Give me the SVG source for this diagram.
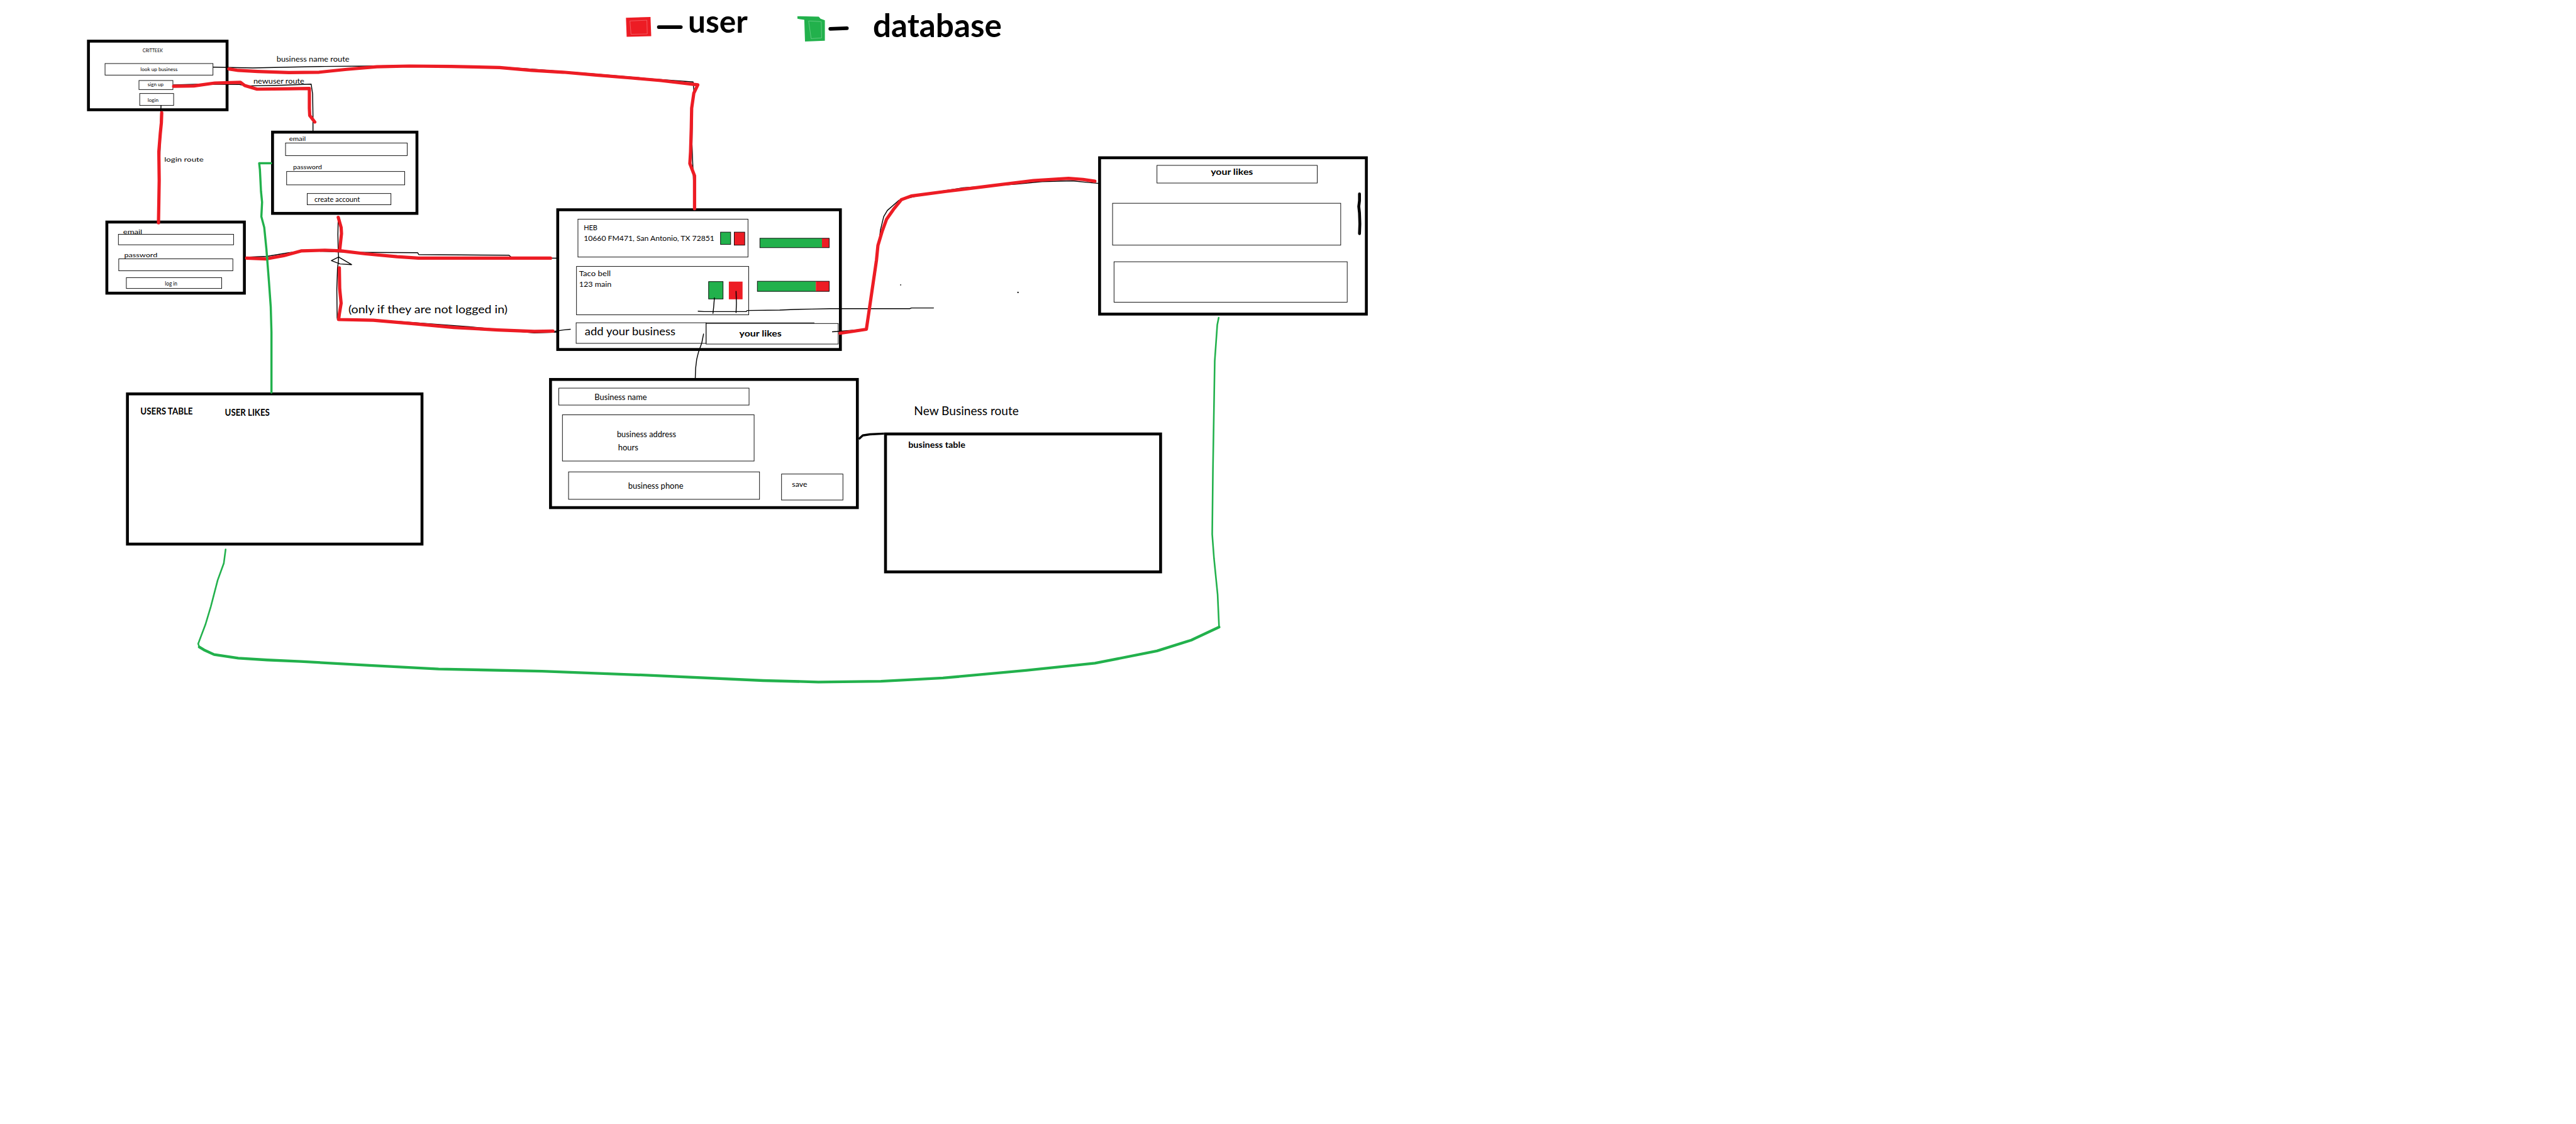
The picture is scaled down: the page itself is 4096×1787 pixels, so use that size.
<svg xmlns="http://www.w3.org/2000/svg" width="4096" height="1787" viewBox="0 0 4096 1787">
<style>
.box{fill:none;stroke:#000;stroke-width:8}
.thin{fill:none;stroke:#000;stroke-width:1.6}
.t{font-family:Lato,"Open Sans","Liberation Sans",sans-serif;fill:#000}
.b{font-weight:bold}
.red{fill:none;stroke:#ED1C24;stroke-width:9;stroke-linecap:round;stroke-linejoin:round}
.grn{fill:none;stroke:#22B14C;stroke-width:6;stroke-linecap:round;stroke-linejoin:round}
.grnt{fill:none;stroke:#22B14C;stroke-width:4.5;stroke-linecap:round;stroke-linejoin:round}
.grnb{fill:none;stroke:#22B14C;stroke-width:7.5;stroke-linecap:round;stroke-linejoin:round}
.blk{fill:none;stroke:#000;stroke-width:2.5;stroke-linecap:round;stroke-linejoin:round}
.gf{fill:#22B14C}
.rf{fill:#ED1C24}
</style>
<rect width="4096" height="1787" fill="#fff"/>
<g transform="scale(0.574)">

<g id="legend">
  <path d="M1734,49 L1802,47 L1804,100 L1736,102 Z" class="rf"/>
  <path d="M1745,58 L1792,56 L1793,94 L1748,95 Z" fill="none" stroke="#f58a8f" stroke-width="1"/>
  <line x1="1825" y1="75" x2="1886" y2="75" stroke="#000" stroke-width="10" stroke-linecap="round"/>
  <text class="t b" x="1906" y="90" font-size="85" textLength="165" lengthAdjust="spacingAndGlyphs">user</text>
  <path d="M2209,45 L2268,46 L2273,52 L2285,56 L2285,113 L2230,115 L2228,55 L2209,52 Z" class="gf"/>
  <path d="M2240,58 L2275,60 L2276,105 L2247,107 Z" fill="none" stroke="#8fdca6" stroke-width="1"/>
  <line x1="2300" y1="80" x2="2346" y2="78" stroke="#000" stroke-width="10" stroke-linecap="round"/>
  <text class="t b" x="2418" y="103" font-size="90" textLength="357" lengthAdjust="spacingAndGlyphs">database</text>
</g>

<g id="home">
  <rect class="box" x="245" y="114" width="384" height="190"/>
  <text class="t" x="395" y="145" font-size="14" textLength="56" lengthAdjust="spacingAndGlyphs">CRITTEEK</text>
  <rect class="thin" x="291" y="176" width="299" height="32"/>
  <text class="t" x="389" y="197" font-size="14" textLength="103" lengthAdjust="spacingAndGlyphs">look up business</text>
  <rect class="thin" x="385" y="223" width="94" height="25"/>
  <text class="t" x="409" y="238" font-size="14" textLength="44" lengthAdjust="spacingAndGlyphs">sign up</text>
  <rect class="thin" x="387" y="259" width="94" height="33"/>
  <text class="t" x="409" y="282" font-size="14" textLength="30" lengthAdjust="spacingAndGlyphs">login</text>
</g>

<g id="signup">
  <rect class="box" x="755" y="366" width="400" height="225"/>
  <text class="t" x="801" y="391" font-size="18" textLength="46" lengthAdjust="spacingAndGlyphs">email</text>
  <rect class="thin" x="791" y="396" width="337" height="35"/>
  <text class="t" x="812" y="468" font-size="18" textLength="80" lengthAdjust="spacingAndGlyphs">password</text>
  <rect class="thin" x="794" y="475" width="327" height="37"/>
  <rect class="thin" x="851" y="536" width="232" height="31"/>
  <text class="t" x="871" y="559" font-size="19" textLength="126" lengthAdjust="spacingAndGlyphs">create account</text>
</g>

<g id="login">
  <rect class="box" x="296" y="615" width="381" height="197"/>
  <text class="t" x="341" y="648" font-size="18" textLength="53" lengthAdjust="spacingAndGlyphs">email</text>
  <rect class="thin" x="328" y="649" width="319" height="29"/>
  <text class="t" x="344" y="712" font-size="18" textLength="92" lengthAdjust="spacingAndGlyphs">password</text>
  <rect class="thin" x="329" y="717" width="316" height="33"/>
  <rect class="thin" x="350" y="769" width="264" height="30"/>
  <text class="t" x="457" y="791" font-size="15" textLength="34" lengthAdjust="spacingAndGlyphs">log in</text>
</g>

<g id="main">
  <rect class="box" x="1545" y="581" width="783" height="387"/>
  <rect class="thin" x="1601" y="607" width="471" height="105"/>
  <text class="t" x="1617" y="637" font-size="20" textLength="38" lengthAdjust="spacingAndGlyphs">HEB</text>
  <text class="t" x="1617" y="667" font-size="20" textLength="362" lengthAdjust="spacingAndGlyphs">10660 FM471, San Antonio, TX 72851</text>
  <rect x="1996" y="643" width="28" height="34" class="gf" stroke="#000" stroke-width="1.6"/>
  <rect x="2034" y="643" width="29" height="36" class="rf" stroke="#000" stroke-width="1.6"/>
  <rect x="2105" y="660" width="172" height="26" class="gf"/>
  <rect x="2277" y="660" width="20" height="26" class="rf"/>
  <rect class="thin" x="2105" y="660" width="192" height="26"/>
  <rect class="thin" x="1597" y="738" width="477" height="134"/>
  <text class="t" x="1604" y="765" font-size="20" textLength="88" lengthAdjust="spacingAndGlyphs">Taco bell</text>
  <text class="t" x="1604" y="795" font-size="20" textLength="90" lengthAdjust="spacingAndGlyphs">123 main</text>
  <rect x="1963" y="780" width="40" height="48" class="gf" stroke="#000" stroke-width="1.6"/>
  <rect x="2019" y="780" width="38" height="49" class="rf"/>
  <rect x="2098" y="779" width="162" height="28" class="gf"/>
  <rect x="2260" y="779" width="37" height="28" class="rf"/>
  <rect class="thin" x="2098" y="779" width="199" height="28"/>
  <rect class="thin" x="1596" y="894" width="360" height="57"/>
  <line class="thin" x1="1956" y1="894" x2="2256" y2="894"/>
  <text class="t" x="1620" y="928" font-size="30" textLength="251" lengthAdjust="spacingAndGlyphs">add your business</text>
  <rect class="thin" x="1956" y="896" width="366" height="57"/>
  <text class="t b" x="2048" y="932" font-size="24" textLength="117" lengthAdjust="spacingAndGlyphs">your likes</text>
</g>

<g id="likes-page">
  <rect class="box" x="3046" y="437" width="739" height="433"/>
  <rect class="thin" x="3205" y="458" width="444" height="49"/>
  <text class="t b" x="3354" y="484" font-size="24" textLength="117" lengthAdjust="spacingAndGlyphs">your likes</text>
  <rect class="thin" x="3082" y="563" width="632" height="116"/>
  <rect class="thin" x="3086" y="725" width="646" height="112"/>
  <path d="M3766,537 L3766,556 L3764,572 L3766,590 L3767,620 L3766,647" fill="none" stroke="#000" stroke-width="8" stroke-linecap="round"/>
</g>

<g id="users-table">
  <rect class="box" x="353" y="1091" width="816" height="416"/>
  <text class="t b" x="389" y="1148" font-size="26" textLength="145" lengthAdjust="spacingAndGlyphs">USERS TABLE</text>
  <text class="t b" x="623" y="1152" font-size="26" textLength="124" lengthAdjust="spacingAndGlyphs">USER LIKES</text>
</g>

<g id="business-form">
  <rect class="box" x="1525" y="1051" width="850" height="355"/>
  <rect class="thin" x="1548" y="1075" width="527" height="47"/>
  <text class="t" x="1647" y="1108" font-size="22" textLength="145" lengthAdjust="spacingAndGlyphs">Business name</text>
  <rect class="thin" x="1558" y="1149" width="531" height="128"/>
  <text class="t" x="1709" y="1211" font-size="22" textLength="164" lengthAdjust="spacingAndGlyphs">business address</text>
  <text class="t" x="1712" y="1248" font-size="22" textLength="56" lengthAdjust="spacingAndGlyphs">hours</text>
  <rect class="thin" x="1575" y="1307" width="529" height="76"/>
  <text class="t" x="1740" y="1354" font-size="22" textLength="153" lengthAdjust="spacingAndGlyphs">business phone</text>
  <rect class="thin" x="2165" y="1313" width="170" height="72"/>
  <text class="t" x="2194" y="1348" font-size="20" textLength="42" lengthAdjust="spacingAndGlyphs">save</text>
</g>

<g id="business-table">
  <rect class="box" x="2453" y="1202" width="762" height="382"/>
  <text class="t b" x="2516" y="1240" font-size="24" textLength="158" lengthAdjust="spacingAndGlyphs">business table</text>
</g>

<g id="connectors">
  <!-- black pencil lines -->
  <polyline class="blk" points="446,292 445,330 444,390 442,480 441,560 440,612"/>
  <polyline class="blk" points="591,186 700,188 800,186 900,184 1027,183 1140,181 1200,184 1380,185 1480,192 1650,205 1800,218 1920,227 1922,250 1918,300 1917,400 1919,453 1922,520 1923,577"/>
  <polyline class="blk" points="481,235 560,233 663,234 683,238 780,236 862,233 866,260 867,320 867,362"/>
  <polyline class="blk" points="690,712 740,710 800,700 850,694 938,698 1000,699 1157,700 1160,705 1410,707 1418,714 1545,715"/>
  <polyline class="blk" points="937,600 936,650 937,697 938,712"/>
  <polygon class="blk" points="938,712 918,722 942,731 974,733"/>
  <polyline class="blk" points="938,712 937,728 935,742 933,800 934,880 935,886 1100,890 1300,905 1480,922 1545,920"/>
  <polyline class="blk" points="1534,918 1560,914 1580,912"/>
  <polyline class="blk" points="2306,919 2400,912 2405,870 2425,757 2439,637 2448,600 2458,583 2490,555 2572,535 2669,520 2815,510 2887,503 2970,501 3010,505 3044,508"/>
  <polyline class="blk" points="1979,825 1977,850 1975,868"/>
  <polyline class="blk" points="2039,807 2040,840 2039,866"/>
  <polyline class="blk" points="1934,862 1950,863 2067,863 2070,860 2160,859 2200,857 2250,856 2300,855 2520,855 2525,853 2586,853"/>
  <polyline class="blk" points="1949,925 1944,950 1935,975 1930,995 1927,1020 1926,1047"/>
  <path d="M2379,1216 L2390,1206 L2410,1203 L2449,1201" fill="none" stroke="#000" stroke-width="6" stroke-linejoin="round"/>
  <circle cx="2495" cy="789" r="1.5" fill="#000"/>
  <circle cx="2820" cy="810" r="2" fill="#000"/>

  <!-- red user routes -->
  <polyline class="red" points="448,312 447,340 444,370 440,420 441,500 440,560 439,617"/>
  <polyline class="red" points="634,191 660,195 714,198 800,201 884,200 960,192 1044,185 1134,183 1250,184 1384,187 1473,195 1560,200 1652,208 1750,216 1830,223 1933,235 1922,258 1916,300 1915,353 1913,420 1911,453 1924,487 1924,540 1924,578"/>
  <polyline class="red" points="481,239 537,238 595,230 666,228 678,237 712,247 800,246 857,245 857,300 858,320 872,338"/>
  <polyline class="red" points="683,715 738,717 786,708 834,695 900,693 945,695 1012,703 1100,711 1159,715 1300,715 1525,715"/>
  <polyline class="red" points="937,602 945,630 946,647 941,693"/>
  <polyline class="red" points="940,742 941,800 945,840 940,870 938,885 1034,887 1150,897 1257,907 1380,914 1480,918 1532,917"/>
  <polyline class="red" points="2327,923 2360,918 2400,912 2411,837 2428,720 2432,680 2444,640 2456,607 2475,580 2497,553 2524,543 2621,530 2742,515 2863,500 2960,494 3000,497 3033,502"/>

  <!-- green database links -->
  <polyline class="grn" points="751,452 718,452 720,470 723,530 726,560 724,600 732,630 738,690 745,780 750,850 752,920 752,1000 752,1087"/>
  <polyline class="grnt" points="625,1522 620,1560 603,1607 584,1680 569,1730 549,1783 552,1792"/>
  <polyline class="grnb" points="552,1792 565,1800 593,1813 660,1823 740,1828 833,1832 1024,1843 1215,1853 1502,1859 1789,1870 2114,1885 2267,1889 2440,1887 2612,1878 2841,1857 3033,1837 3205,1803 3300,1773 3377,1737"/>
  <polyline class="grnt" points="3377,1737 3373,1647 3363,1547 3358,1480 3360,1300 3365,1000 3372,900 3376,880"/>
</g>

<g id="labels">
  <text class="t" x="766" y="170" font-size="20" textLength="202" lengthAdjust="spacingAndGlyphs">business name route</text>
  <text class="t" x="702" y="232" font-size="20" textLength="141" lengthAdjust="spacingAndGlyphs">newuser route</text>
  <text class="t" x="455" y="448" font-size="18" textLength="109" lengthAdjust="spacingAndGlyphs">login route</text>
  <text class="t" x="965" y="867" font-size="29" textLength="441" lengthAdjust="spacingAndGlyphs">(only if they are not logged in)</text>
  <text class="t" x="2532" y="1149" font-size="34" textLength="290" lengthAdjust="spacingAndGlyphs">New Business route</text>
</g>

</g>
</svg>
